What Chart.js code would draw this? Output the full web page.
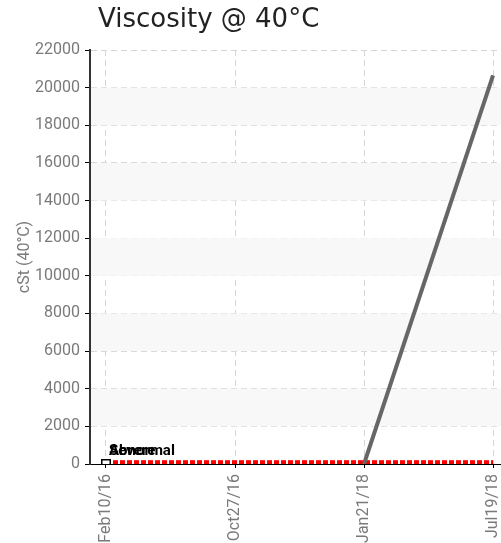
<!DOCTYPE html>
<html>
<head>
<meta charset="utf-8">
<script src="https://cdn.jsdelivr.net/npm/chart.js@4/dist/chart.umd.min.js"></script>
<style>
  html, body { margin: 0; padding: 0; background: #fff; }
  #wrap { width: 501px; height: 543px; }
</style>
</head>
<body>
<div id="wrap"><canvas id="myChart"></canvas></div>
<script>
// sample dates and lab values
const datas = ['Feb10/16', 'Oct27/16', 'Jan21/18', 'Jul19/18']
const viscosidade = [0, null, 0, 20650]
const limiteAbnormal = [40, 40, 40, 40]
const limiteSevere = [60, 60, 60, 60]
const ticksY = [0, 2000, 4000, 6000, 8000, 10000, 12000, 14000, 16000, 18000, 20000, 22000]

const fonteEixo = "Roboto, 'Liberation Sans', sans-serif"

// faixas cinza alternadas atras do grafico
const faixas = {
    id: 'faixas',
    beforeDatasetsDraw(chart) {
        const { ctx, chartArea, scales } = chart
        ctx.save()
        ctx.fillStyle = '#f8f8f8'
        for (var i = 1; i < ticksY.length - 1; i += 2) {
            const y1 = scales.y.getPixelForValue(ticksY[i])
            const y2 = scales.y.getPixelForValue(ticksY[i + 1])
            ctx.fillRect(chartArea.left + 1, y2, chartArea.right - chartArea.left, y1 - y2)
        }
        ctx.restore()
    }
}

// titulo e rotulos dos limites
const textos = {
    id: 'textos',
    afterDraw(chart) {
        const { ctx, chartArea, scales } = chart
        ctx.save()
        ctx.fillStyle = '#222'
        ctx.font = "26px 'DejaVu Sans', sans-serif"
        ctx.textBaseline = 'alphabetic'
        ctx.textAlign = 'left'
        ctx.fillText('Viscosity @ 40°C', chartArea.left + 8, 27)

        ctx.fillStyle = '#000'
        ctx.font = "bold 15px " + fonteEixo
        const x0 = scales.x.getPixelForValue(0) + 3
        ctx.fillText('Abnormal', x0, scales.y.getPixelForValue(limiteAbnormal[0]) - 8)
        ctx.fillText('Severe', x0, scales.y.getPixelForValue(limiteSevere[0]) - 8)
        ctx.restore()
    }
}

function plotarGrafico() {
    const dados = {
        labels: datas,
        datasets: [
            {
                label: 'Viscosity',
                data: viscosidade.map(function (v, i) { return { x: i, y: v } }),
                borderColor: '#666666',
                borderWidth: 4,
                pointStyle: 'rect',
                pointRadius: [6, 0, 0, 0],
                pointBackgroundColor: '#ffffff',
                pointBorderColor: '#000000',
                pointBorderWidth: 1.5,
                spanGaps: false,
                order: 0
            },
            {
                label: 'Severe',
                data: limiteSevere.map(function (v, i) { return { x: i, y: v } }),
                borderColor: '#ff0000',
                borderWidth: 5,
                borderDash: [5, 2],
                pointRadius: 0,
                order: 1
            },
            {
                label: 'Abnormal',
                data: limiteAbnormal.map(function (v, i) { return { x: i, y: v } }),
                borderColor: '#ff0000',
                borderWidth: 5,
                borderDash: [5, 2],
                pointRadius: 0,
                order: 2
            }
        ]
    }

    const config = {
        type: 'line',
        data: dados,
        plugins: [faixas, textos],
        options: {
            responsive: true,
            maintainAspectRatio: false,
            animation: false,
            layout: { autoPadding: false, padding: { top: 50, right: 1, left: 0, bottom: 0 } },
            plugins: {
                legend: { display: false },
                tooltip: { enabled: false },
                title: { display: false }
            },
            scales: {
                x: {
                    type: 'linear',
                    min: -0.124,
                    max: 3.054,
                    afterBuildTicks: function (axis) {
                        axis.ticks = datas.map(function (d, i) { return { value: i } })
                    },
                    afterFit: function (axis) {
                        axis.height = 79
                        axis.paddingLeft = 0
                        axis.paddingRight = 0
                    },
                    ticks: {
                        autoSkip: false,
                        maxRotation: 90,
                        minRotation: 90,
                        padding: 6,
                        color: '#7a7a7a',
                        font: { family: fonteEixo, size: 16 },
                        callback: function (v) { return datas[v] }
                    },
                    grid: {
                        color: '#d6d6d6',
                        tickColor: '#000',
                        tickLength: 4,
                        tickBorderDash: []
                    },
                    border: { color: '#000', width: 1, dash: [6, 4] }
                },
                y: {
                    min: 0,
                    max: 22000,
                    afterBuildTicks: function (axis) {
                        axis.ticks = ticksY.map(function (v) { return { value: v } })
                    },
                    afterFit: function (axis) {
                        axis.width = 90
                        axis.paddingTop = 0
                        axis.paddingBottom = 0
                    },
                    ticks: {
                        padding: 5,
                        color: '#7a7a7a',
                        font: { family: fonteEixo, size: 16 },
                        callback: function (v) { return String(v) }
                    },
                    title: {
                        display: true,
                        text: 'cSt (40°C)',
                        color: '#7a7a7a',
                        font: { family: fonteEixo, size: 16 },
                        padding: { top: 15, bottom: 0 }
                    },
                    grid: {
                        color: '#d6d6d6',
                        tickColor: '#000',
                        tickLength: 5,
                        tickBorderDash: []
                    },
                    border: { color: '#333', width: 2, dash: [6, 4] }
                }
            }
        }
    }

    const myChart = new Chart(document.getElementById('myChart'), config)
}

plotarGrafico()
</script>
</body>
</html>
